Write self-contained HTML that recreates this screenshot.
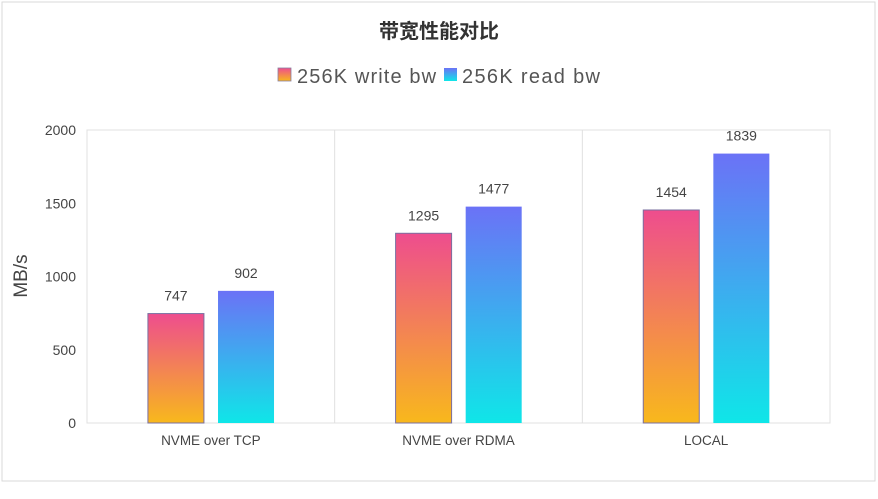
<!DOCTYPE html>
<html><head><meta charset="utf-8"><style>
body{margin:0;background:#fff;width:878px;height:494px;overflow:hidden;font-family:"Liberation Sans","Noto Sans CJK SC",sans-serif}
</style></head><body>
<svg width="878" height="494" xmlns="http://www.w3.org/2000/svg">
<defs>
<linearGradient id="gw" x1="0" y1="0" x2="0" y2="1"><stop offset="0" stop-color="#ee4d8e"/><stop offset="1" stop-color="#f8b81c"/></linearGradient>
<linearGradient id="gr" x1="0" y1="0" x2="0" y2="1"><stop offset="0" stop-color="#6b72f6"/><stop offset="1" stop-color="#0fe6e8"/></linearGradient>
</defs>
<rect x="2" y="2" width="873" height="479" fill="#fff" stroke="#d9d9d9"/>
<text x="439" y="38" text-anchor="middle" font-size="20" font-weight="bold" fill="#333">带宽性能对比</text>
<g>
<rect x="278" y="68" width="13" height="13" fill="url(#gw)" stroke="#8a7fa0" stroke-width="0.8"/>
<text x="297" y="83" font-size="20" letter-spacing="0.9" textLength="140" fill="#555">256K write bw</text>
<rect x="444" y="68" width="13" height="13" fill="url(#gr)"/>
<text x="462" y="83" font-size="20" textLength="138" fill="#555">256K read bw</text>
</g>
<text transform="translate(27,276) rotate(-90)" text-anchor="middle" font-size="19" fill="#444">MB/s</text>
<g id="plot"></g>
</svg>
<script>
const categories=["NVME over TCP","NVME over RDMA","LOCAL"];
const writeValues=[747,1295,1454];
const readValues=[902,1477,1839];
const yTicks=[0,500,1000,1500,2000];
const X0=87,X1=830,Y0=423,Y1=130,YMAX=2000;
const bw=(X1-X0)/categories.length;
const y=v=>Y0-(v/YMAX)*(Y0-Y1);
const xCat=i=>X0+i*bw;
const g=document.getElementById('plot');
const NS="http://www.w3.org/2000/svg";
function mk(t,a,txt){const e=document.createElementNS(NS,t);for(const k in a)e.setAttribute(k,a[k]);if(txt!==undefined)e.textContent=txt;g.appendChild(e);return e;}
let fr=mk('rect',{x:X0,y:Y1,width:X1-X0,height:Y0-Y1,fill:'none',stroke:'#e0e0e0'});


yTicks.forEach(t=>{
 const e=mk('text',{x:76,y:y(t)+5,'text-anchor':'end','font-size':14,fill:'#444'},t);
 
 
});
categories.forEach((c,i)=>{
 if(i>0){const l=mk('line',{x1:xCat(i),x2:xCat(i),y1:Y1,y2:Y0,stroke:'#e0e0e0'});
 
 }
 const cx=xCat(i)+bw/2;
 const lab=mk('text',{x:cx,y:Y0+22,'text-anchor':'middle','font-size':13.5,fill:'#444'},c);
 
 
 const w=56;
 const wx=xCat(i)+bw*0.246, rx=xCat(i)+bw*0.529;
 const wb=mk('rect',{x:wx,y:y(writeValues[i]),width:w,height:Y0-y(writeValues[i]),fill:'url(#gw)',stroke:'#7a6fa0','stroke-width':1});
 
 
 const rb=mk('rect',{x:rx,y:y(readValues[i]),width:w,height:Y0-y(readValues[i]),fill:'url(#gr)'});
 
 
 const wl=mk('text',{x:wx+w/2,y:y(writeValues[i])-13,'text-anchor':'middle','font-size':14,fill:'#444'},writeValues[i]);
 
 
 const rl=mk('text',{x:rx+w/2,y:y(readValues[i])-13,'text-anchor':'middle','font-size':14,fill:'#444'},readValues[i]);
 
 
});
</script>
</body></html>
